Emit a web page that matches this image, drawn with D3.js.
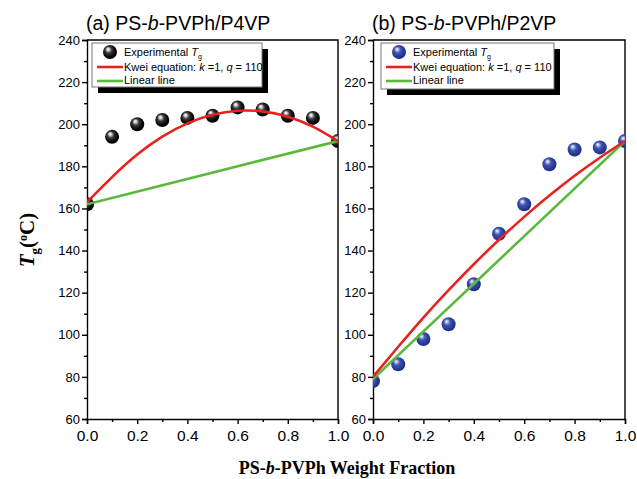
<!DOCTYPE html>
<html>
<head>
<meta charset="utf-8">
<script src="https://cdn.jsdelivr.net/npm/d3@7"></script>
<style>
  body { margin: 0; background: #fff; }
  svg { display: block; }
</style>
</head>
<body>
<svg id="chart" width="637" height="479"></svg>
<script>
// PS-b-PVPh blends: Tg vs weight fraction
const fraction = [0, 0.1, 0.2, 0.3, 0.4, 0.5, 0.6, 0.7, 0.8, 0.9, 1.0];
const p4vpTg = [162, 194, 200, 202, 203, 204, 208, 207, 204, 203, 192];
const p4vpKwei = [163, 174.9, 185.6, 194.1, 200.4, 204.5, 206.4, 206.1, 203.6, 198.9, 192];
const p2vpTg = [78, 86, 98, 105, 124, 148, 162, 181, 188, 189, 192];
const p2vpKwei = [80, 94.3, 108.2, 121.2, 133.5, 145.1, 156, 166.1, 175.5, 184.1, 192];
const linearEnds = [0, 1];
const p4vpLinear = [162, 192];
const p2vpLinear = [79, 192];
const xTicks = [0, 0.2, 0.4, 0.6, 0.8, 1.0];
const yTicks = [60, 80, 100, 120, 140, 160, 180, 200, 220, 240];

const RED = '#e8221e';
const GREEN = '#5cb83c';
const SANS = '"Liberation Sans", Arial, sans-serif';
const SERIF = '"Liberation Serif", "Times New Roman", serif';

const svg = d3.select('#chart');
const defs = svg.append('defs');

//球形点的渐变
function sphere(id, stops) {
	let g = defs.append('radialGradient')
		.attr('id', id)
		.attr('cx', '45%').attr('cy', '45%').attr('r', '60%')
		.attr('fx', '35%').attr('fy', '28%');
	stops.forEach((s) => {
		g.append('stop').attr('offset', s[0]).attr('stop-color', s[1]);
	});
}
sphere('ballBlack', [['0%', '#ffffff'], ['14%', '#d8d8d8'], ['40%', '#3a3a3a'], ['75%', '#050505'], ['100%', '#000']]);
sphere('ballBlue', [['0%', '#ffffff'], ['14%', '#b8c2ec'], ['40%', '#3d52b4'], ['80%', '#23368f'], ['100%', '#1a2a78']]);

const y = d3.scaleLinear().domain([60, 240]).range([419, 40]);

const panels = [
	{left: 87, right: 338, title: 'a', blend: 'P4VP', tg: p4vpTg, kwei: p4vpKwei, lin: p4vpLinear,
		ball: 'ballBlack', legend: {x: 92, y: 43, w: 170, h: 44}},
	{left: 373, right: 625, title: 'b', blend: 'P2VP', tg: p2vpTg, kwei: p2vpKwei, lin: p2vpLinear,
		ball: 'ballBlue', legend: {x: 381, y: 43, w: 173, h: 46}}
];

panels.forEach((p) => {
	let x = d3.scaleLinear().domain([0, 1]).range([p.left, p.right]);
	let g = svg.append('g');

	// 坐标轴
	let xAxis = g.append('g').attr('transform', `translate(0,${y(60)})`)
		.call(d3.axisBottom(x).tickValues(xTicks).tickSize(5).tickFormat(d3.format('.1f')));
	g.append('g').attr('transform', `translate(0,${y(60)})`)
		.call(d3.axisBottom(x).tickValues(d3.range(0.1, 1, 0.2)).tickSize(3).tickFormat(''))
		.select('.domain').remove();
	xAxis.selectAll('text').attr('dy', '0.75em').attr('y', 10)
		.style('font-family', SANS).style('font-size', '15.5px');

	let yAxis = g.append('g').attr('transform', `translate(${p.left},0)`)
		.call(d3.axisLeft(y).tickValues(yTicks).tickSize(5));
	g.append('g').attr('transform', `translate(${p.left},0)`)
		.call(d3.axisLeft(y).tickValues(d3.range(70, 240, 20)).tickSize(3).tickFormat(''))
		.select('.domain').remove();
	yAxis.selectAll('text').attr('x', -7)
		.style('font-family', SANS).style('font-size', '13px');

	g.selectAll('.domain, .tick line').attr('stroke', '#000').attr('stroke-width', 1.4);

	// 上边框和右边框
	g.append('path')
		.attr('d', `M${p.left},${y(240)}H${p.right}V${y(60)}`)
		.attr('fill', 'none').attr('stroke', '#000').attr('stroke-width', 1.4);

	// 曲线
	let clip = 'clip' + p.title;
	defs.append('clipPath').attr('id', clip).append('rect')
		.attr('x', p.left).attr('y', y(240)).attr('width', p.right - p.left).attr('height', y(60) - y(240));

	let plot = g.append('g').attr('clip-path', `url(#${clip})`);
	let curve = d3.line().x((d, i) => x(fraction[i])).y((d) => y(d)).curve(d3.curveNatural);
	let straight = d3.line().x((d, i) => x(linearEnds[i])).y((d) => y(d));

	plot.append('g').selectAll('circle').data(p.tg).join('circle')
		.attr('cx', (d, i) => x(fraction[i]))
		.attr('cy', (d) => y(d))
		.attr('r', 7)
		.attr('fill', `url(#${p.ball})`);

	plot.append('path').attr('d', straight(p.lin))
		.attr('fill', 'none').attr('stroke', GREEN).attr('stroke-width', 2.6);
	plot.append('path').attr('d', curve(p.kwei))
		.attr('fill', 'none').attr('stroke', RED).attr('stroke-width', 2.6);

	// 标题
	let t = svg.append('text').attr('x', p.left - 1).attr('y', 30)
		.style('font-family', SANS).style('font-size', '19.5px');
	t.append('tspan').text(`(${p.title}) PS-`);
	t.append('tspan').style('font-style', 'italic').text('b');
	t.append('tspan').text(`-PVPh/${p.blend}`);

	// 图例
	let L = p.legend;
	let lg = svg.append('g').attr('transform', `translate(${L.x},${L.y})`);
	lg.append('rect').attr('x', 6).attr('y', 6).attr('width', L.w).attr('height', L.h).attr('fill', '#000');
	lg.append('rect').attr('width', L.w).attr('height', L.h)
		.attr('fill', '#fff').attr('stroke', '#777').attr('stroke-width', 1);
	lg.append('circle').attr('cx', 18).attr('cy', 9).attr('r', 7).attr('fill', `url(#${p.ball})`);
	lg.append('line').attr('x1', 5).attr('x2', 31).attr('y1', 24).attr('y2', 24)
		.attr('stroke', RED).attr('stroke-width', 2.6);
	lg.append('line').attr('x1', 5).attr('x2', 31).attr('y1', 38).attr('y2', 38)
		.attr('stroke', GREEN).attr('stroke-width', 2.6);
	let font = (sel) => sel.style('font-family', SANS).style('font-size', '11px');
	let e1 = lg.append('text').attr('x', 32).attr('y', 13).call(font);
	e1.append('tspan').text('Experimental ');
	e1.append('tspan').style('font-style', 'italic').text('T');
	e1.append('tspan').attr('dy', 3).style('font-size', '7px').text('g');
	let e2 = lg.append('text').attr('x', 32).attr('y', 28).call(font);
	e2.append('tspan').text('Kwei equation: ');
	e2.append('tspan').style('font-style', 'italic').text('k');
	e2.append('tspan').text(' =1, ');
	e2.append('tspan').style('font-style', 'italic').text('q');
	e2.append('tspan').text(' = 110');
	lg.append('text').attr('x', 32).attr('y', 41).call(font).text('Linear line');
});

// 轴标题
let xt = svg.append('text').attr('x', 347).attr('y', 474).attr('text-anchor', 'middle')
	.style('font-family', SERIF).style('font-weight', 'bold').style('font-size', '18px');
xt.append('tspan').text('PS-');
xt.append('tspan').style('font-style', 'italic').text('b');
xt.append('tspan').text('-PVPh Weight Fraction');

let yt = svg.append('text').attr('transform', 'translate(34,240) rotate(-90)').attr('text-anchor', 'middle')
	.style('font-family', SERIF).style('font-weight', 'bold').style('font-size', '21px');
yt.append('tspan').style('font-style', 'italic').text('T');
yt.append('tspan').attr('dy', 5).style('font-size', '13px').text('g');
yt.append('tspan').attr('dy', -5).text('(');
yt.append('tspan').attr('dy', -7).style('font-size', '12px').text('o');
yt.append('tspan').attr('dy', 7).text('C)');
</script>
</body>
